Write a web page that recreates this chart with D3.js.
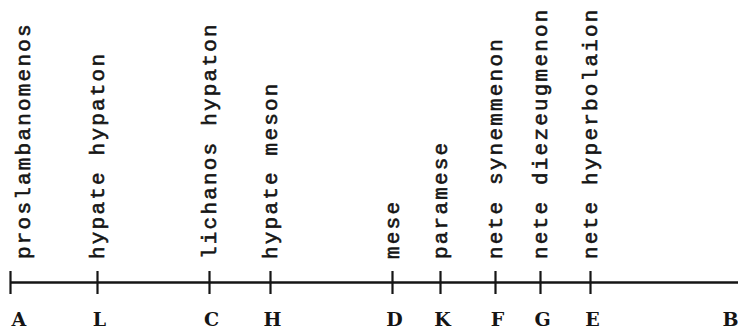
<!DOCTYPE html>
<html>
<head>
<meta charset="utf-8">
<script src="https://cdn.jsdelivr.net/npm/d3@7"></script>
<style>
  html, body { margin: 0; padding: 0; background: #fff; }
  svg { display: block; }
</style>
</head>
<body>
<div id="chart"></div>
<script>
// Letters marking each note of the system
const notes = ["A", "L", "C", "H", "D", "K", "F", "G", "E", "B"];
// Position of each note along the line (relative units)
const positions = [0, 87, 199, 260, 382, 430, 485, 530, 580, 732];
// Greek note names written above the ticks
const names = ["proslambanomenos", "hypate hypaton", "lichanos hypaton", "hypate meson",
               "mese", "paramese", "nete synemmenon", "nete diezeugmenon", "nete hyperbolaion", ""];

const W = 738, H = 331;
const lineY = 282;
const ink = "#151515";

const svg = d3.select("#chart").append("svg")
  .attr("width", W).attr("height", H)
  .attr("viewBox", `0 0 ${W} ${H}`);

svg.append("rect").attr("width", W).attr("height", H).attr("fill", "#fff");

const x = d3.scaleLinear().domain([0, 732]).range([10, 742]);

const axis = d3.axisBottom(x)
  .tickValues(positions)
  .tickFormat((d, i) => notes[i])
  .tickSizeOuter(0)
  .tickSizeInner(11);

const g = svg.append("g")
  .attr("transform", `translate(0,${lineY})`)
  .call(axis);

const last = notes.length - 1;
g.select(".domain").attr("stroke", ink).attr("stroke-width", 2.4);
g.selectAll(".tick line")
  .attr("stroke", ink).attr("stroke-width", 2.2)
  .attr("y1", -11).attr("y2", 12);
g.selectAll(".tick text")
  .attr("fill", ink)
  .attr("dy", null)
  .attr("y", 43.5)
  .attr("x", (d, i) => i === 0 ? 1 : (i === last ? -4 : 2))
  .attr("text-anchor", (d, i) => i === 0 ? "start" : (i === last ? "end" : "middle"))
  .style("font-family", "'DejaVu Serif', serif")
  .style("font-weight", "bold")
  .style("font-size", "19px");

// rotated note names
const labelBottom = 259;
svg.append("g").selectAll("text")
  .data(positions.map((p, i) => ({ p, name: names[i], i })).filter(d => d.name))
  .join("text")
  .attr("transform", d => `translate(${x(d.p) + (d.i === 0 ? 20 : 7)},${labelBottom}) rotate(-90)`)
  .attr("fill", ink)
  .attr("stroke", ink)
  .attr("stroke-width", 0.6)
  .style("font-family", "'Liberation Mono', monospace")
  .style("font-size", "21px")
  .style("letter-spacing", "2.2px")
  .text(d => d.name);
</script>
</body>
</html>
